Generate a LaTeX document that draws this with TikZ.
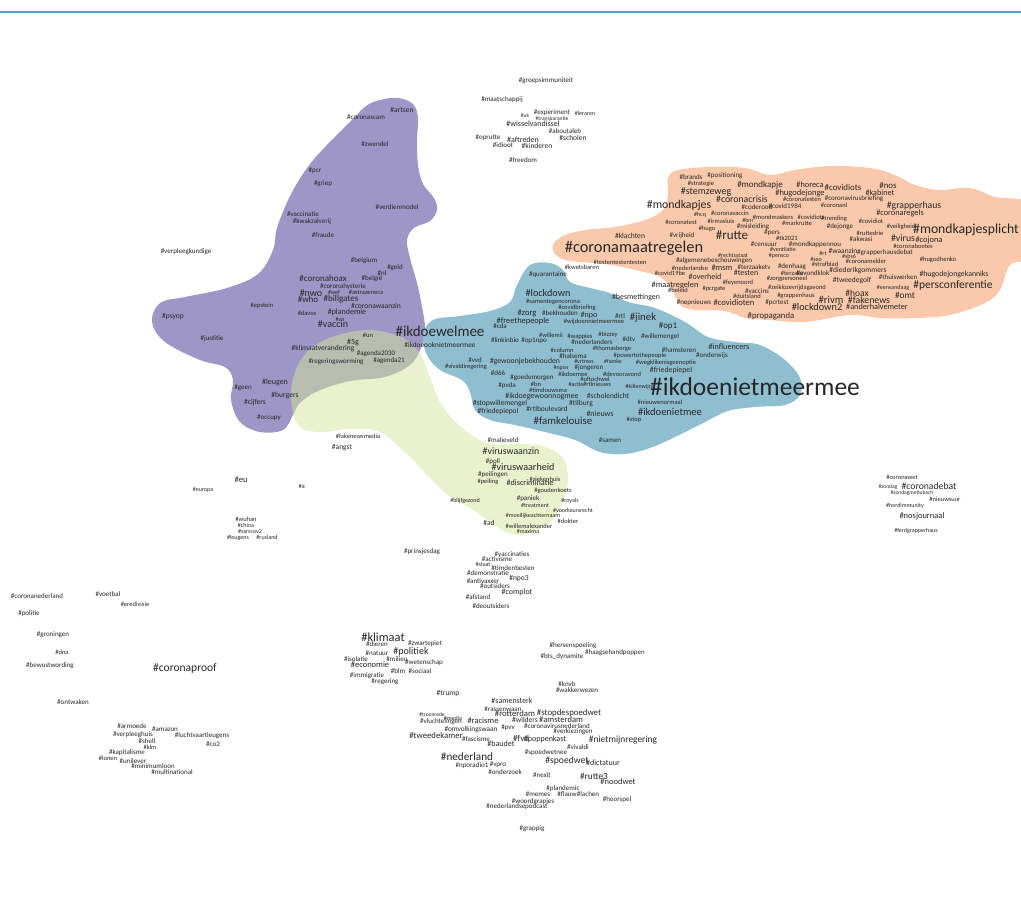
\documentclass[tikz,border=0pt]{standalone}
\usepackage{fontspec}
\setmainfont{Carlito}
\usepackage{tikz}

\definecolor{clpurple}{RGB}{158,150,199}
\definecolor{clorange}{RGB}{250,200,170}
\definecolor{clblue}{RGB}{144,190,209}
\definecolor{clgreen}{RGB}{209,231,155}
\definecolor{topblue}{RGB}{91,155,213}

\begin{document}
\begin{tikzpicture}[
        x=1pt, y=-1pt,
        % Stili per le etichette
        tag/.style={inner sep=0pt, text=black!85, font=\fontsize{#1pt}{#1pt}\selectfont},
        % Stili per i cluster
        cluster/.style={draw=none, fill=#1},
        topline/.style={draw=topblue, line width=1.4pt}
    ]
    \useasboundingbox (0,0) rectangle (1021,902);
    \clip (0,0) rectangle (1021,902);

    % --- TOP LINE ---
    \coordinate (lineL) at (0,12);
    \coordinate (lineR) at (1021,12);
    \draw[topline] (lineL) -- (lineR);

    % --- CLUSTERS ---
    \fill[cluster=clpurple] plot[smooth cycle, tension=0.6] coordinates {
        (380,100) (398,98) (413,104) (418,118) (417,140) (418,165) (423,184) (434,198)
        (437,210) (430,221) (414,228) (407,240) (410,258) (417,283) (422,307) (425,328)
        (421,348) (410,365) (385,377) (350,381) (318,391) (300,403) (293,415) (283,430)
        (260,432) (240,422) (231,400) (233,380) (225,367) (200,360) (165,342) (152,322)
        (160,303) (185,297) (227,288) (258,274) (273,250) (277,228) (290,196) (307,168)
        (325,147) (350,122) (366,106)};
    \fill[cluster=clblue] plot[smooth cycle, tension=0.6] coordinates {
        (530,265) (550,263) (563,270) (570,282) (590,288) (610,293) (628,302) (655,308)
        (685,322) (708,337) (735,342) (760,345) (785,360) (800,378) (800,395) (785,405)
        (755,407) (728,411) (705,422) (675,437) (650,448) (625,454) (600,452) (575,440)
        (545,432) (515,425) (490,420) (475,410) (470,392) (462,380) (440,370) (427,355)
        (423,335) (433,320) (460,316) (490,311) (510,302) (517,285)};
    \fill[cluster=clorange] plot[smooth cycle, tension=0.6] coordinates {
        (553,245) (563,236) (585,230) (615,227) (645,220) (663,210) (668,195) (668,178)
        (678,170) (710,167) (745,168) (770,175) (795,170) (830,166) (870,168) (895,175)
        (915,185) (940,190) (970,188) (995,197) (1030,205) (1030,255) (1010,265) (1000,290)
        (985,303) (950,315) (915,318) (880,318) (850,315) (805,322) (770,320) (745,318)
        (725,311) (695,310) (680,305) (672,290) (660,277) (635,270) (605,264) (570,261)
        (556,255)};
    \fill[cluster=clgreen, fill opacity=0.5] plot[smooth cycle, tension=0.6] coordinates {
        (291,398) (295,372) (309,350) (335,336) (370,330) (401,337) (419,352) (430,377)
        (441,404) (460,426) (487,443) (515,444) (543,446) (562,457) (568,478) (563,502)
        (550,522) (528,534) (508,533) (490,522) (470,508) (448,495) (430,478) (408,455)
        (380,432) (350,429) (318,432) (298,425)};

    % --- TOP CLUSTER ---
    \foreach \f/\x/\y/\t [count=\i] in {
        7/546/81/groepsimmuniteit, 7/502/100/maatschappij, 7/552/113/experiment,
        6/585/113/leraren, 5.5/525/116/uk, 5.5/552/119/transparantie,
        8/533/124/wisselvandissel, 7/565/131/aboutaleb, 7/488/138/oprutte,
        8/523/140/aftreden, 7.5/573/138/scholen, 7/503/145/idioot,
        7.5/537/146/kinderen, 7/523/160/freedom}
        \node[tag=\f] (top\i) at (\x,\y) {\#\t};

    % --- PURPLE CLUSTER ---
    \foreach \f/\x/\y/\t [count=\i] in {
        7/366/117/coronascam, 7.5/402/110/artsen, 7/375/144/zwendel, 7/315/171/pcr,
        7/323/184/griep, 7/397/207/verdienmodel, 7/303/214/vaccinatie,
        7/312/222/kwakzalverij, 7/323/235/fraude, 7/186/252/verpleegkundige,
        7/364/261/belgium, 7/395/268/geld, 7/382/273/nl, 7/372/279/belgië,
        9/323/278/coronahoax, 7/343/287/coronahysterie, 10/311/293/nwo, 6/334/292/wef,
        6.5/366/292/astrazeneca, 9/308/299/who, 9/341/299/billgates,
        7.5/376/306/coronawaanzin, 6.5/262/306/epstein, 6.5/307/313/davos,
        8/347/312/plandemie, 6/340/319/vn, 10/333/324/vaccin, 7.5/173/317/psyop,
        7/212/339/justitie, 6.5/368/335/un, 8/353/342/5g, 7.5/323/349/klimaatverandering,
        7/376/354/agenda2030, 7/336/362/regeringsworming, 7/389/361/agenda21,
        15/440/331/ikdoewelmee, 7.3/440/345/ikdoeooknietmeermee, 8/275/382/leugen,
        7/243/388/geen, 7.6/285/396/burgers, 7.5/255/403/cijfers, 7/269/418/occupy,
        6.5/358/436/fakenewsmedia, 7.5/342/448/angst}
        \node[tag=\f] (pur\i) at (\x,\y) {\#\t};

    % --- ORANGE CLUSTER ---
    \foreach \f/\x/\y/\t [count=\i] in {
        7/691/177/brands, 7/725/176/positioning, 6.5/701/184/strategie,
        9/760/185/mondkapje, 10/706/192/stemzeweg, 9.7/742/199/coronacrisis,
        8.5/800/193/hugodejonge, 11.8/679/205/mondkapjes, 7/757/207/coderood,
        7/785/206/covid1984, 6/700/215/hcq, 6.5/730/213/coronavaccin,
        6.5/721/221/irmasluis, 6/748/220/bnr, 6.5/773/217/mondmaskers,
        6.5/681/222/coronatest, 7/753/227/misleiding, 6.5/707/229/hugo,
        7/682/236/vrijheid, 7.6/630/236/klachten, 16.4/634/248/coronamaatregelen,
        13/732/235/rutte, 7/772/233/pers, 6.5/797/223/markrutte, 6.5/787/238/tk2021,
        7/764/244/censuur, 6/783/249/ventilatie, 6/733/255/rechtsstaat,
        6/779/256/pensco, 7/714/261/algemenebeschouwingen, 6.5/690/268/nederlandse,
        8.4/722/268/msm, 7/754/267/terzaaketv, 7/792/267/denhaag,
        6.5/670/273/covid19be, 8/746/273/testen, 6.5/792/273/terzake,
        8/705/277/overheid, 6.5/787/279/zorgpersoneel, 6.5/738/283/feyenoord,
        8.3/675/285/maatregelen, 6.5/678/290/beleid, 6.5/714/289/pcrgate,
        7/757/291/vaccins, 6.5/797/288/zeiklozevrijdagavond, 6.5/747/296/duitsland,
        6.5/796/296/grappenhaus, 7/694/303/nepnieuws, 8.6/734/303/covidioten,
        7/777/303/pcrtest, 8.7/771/316/propaganda, 7.9/636/297/besmettingen,
        6.5/620/262/testentestentesten, 6.5/582/267/kwetsbaren,
        8.3/810/185/horeca, 8.9/843/187/covidiots, 8.9/888/186/nos, 8.2/880/193/kabinet,
        6.5/802/199/coronatesten, 7/854/199/coronavirusbriefing, 6.5/834/205/coronanl,
        9.7/914/206/grapperhaus, 8.3/900/213/coronaregels, 6.5/811/217/covidiots,
        6.5/834/219/trending, 6.5/871/221/covidiot, 7/840/227/dejonge,
        6.5/901/227/veiligheid, 6.5/870/233/ruttedrie, 13.7/966/230/mondkapjesplicht,
        7/861/239/akwasi, 9.8/903/238/virus, 8.4/929/240/cojona,
        7/815/245/mondkappennou, 6.5/913/246/coronaboetes, 7.5/843/251/waanzin,
        7/885/253/grapperhausdebat, 6/823/253/rt, 6.5/938/260/hugodhenko,
        6/816/259/seo, 6/849/256/sbs6, 6.5/866/261/coronamelder, 6.5/825/264/strafblad,
        7.5/858/271/diederikgommers, 7/813/273/avondklok, 7/898/277/thuiswerken,
        7.8/954/274/hugodejongekanniks, 7.5/852/281/tweedegolf,
        11.5/953/285/persconferentie, 6/893/288/eenvandaag, 9.5/857/293/hoax,
        9.3/905/295/omt, 10.7/831/300/rivm, 9.8/869/300/fakenews,
        10.3/817/307/lockdown2, 8.2/877/307/anderhalvemeter}
        \node[tag=\f] (ora\i) at (\x,\y) {\#\t};

    % --- BLUE CLUSTER ---
    \foreach \f/\x/\y/\t [count=\i] in {
        7/548/275/quarantaine, 10.2/548/293/lockdown, 6.5/553/302/samentegencorona,
        6.5/577/308/covidbriefing, 8.5/527/313/zorg, 7/560/313/bekhouden,
        8/589/315/npo, 7/620/316/rtl, 10.8/643/318/jinek, 8.4/523/321/freethepeople,
        6.5/594/322/wijdoennietmeermee, 7/500/326/cda, 8.9/668/326/op1,
        6.5/551/335/willemii, 6.5/580/337/wappies, 6.5/608/335/bizzey, 7/629/339/dtv,
        7/660/337/willemengel, 7/505/340/linkinbio, 7/534/341/op1npo,
        7/592/342/nederlanders, 6.5/562/350/column, 6.5/612/349/thomasberge,
        7/679/350/hamsteren, 8.2/729/347/influencers, 7/712/356/onderwijs,
        7/573/356/halsema, 6.5/640/356/powertothepeople, 7/475/360/vvd,
        7.7/525/361/gewoonjebekhouden, 6/584/361/vrtnws, 6/613/361/famke,
        6.5/666/363/wegklikenisgeenoptie, 6.5/466/367/vivaldiregering, 7/498/373/d66,
        6/561/368/npos, 7/589/368/jongeren, 7.8/671/370/friedepiepel,
        6.5/573/374/ikdoemee, 6.5/622/374/devooravond, 7/532/378/goedemorgen,
        6.5/595/379/oftochwel, 7/507/386/pvda, 6.5/536/384/bn, 6/576/384/actie,
        6.5/597/384/rtlnieuws, 6.5/548/390/timdouwsma, 6/640/387/killenwijns,
        7.9/542/396/ikdoegewoonnogmee, 7.5/608/396/scholendicht,
        6.5/660/402/nieuwenormaal, 7.6/500/404/stopwillemengel, 7.5/581/404/tilburg,
        7.5/498/411/friedepiepol, 7.5/547/409/rtlboulevard, 8/600/414/nieuws,
        10.5/670/412/ikdoenietmee, 6.5/634/420/stop, 10.9/563/421/famkelouise,
        7/610/440/samen, 25.5/755/387/ikdoenietmeermee}
        \node[tag=\f] (blu\i) at (\x,\y) {\#\t};

    % --- GREEN CLUSTER ---
    \foreach \f/\x/\y/\t [count=\i] in {
        7/503/440/malieveld, 9.8/511/451/viruswaanzin, 7/493/462/poll,
        10.1/523/467/viruswaarheid, 7/493/475/peilingen, 6.5/488/482/peiling,
        6.5/545/479/ziekenhuis, 8.2/530/483/discriminatie, 6.5/553/491/goudenkoets,
        6/465/501/blijfgezond, 7/528/499/paniek, 6/535/505/treatment, 6/570/501/royals,
        6/573/510/voorkeursrecht, 6/533/516/moeilijkeachternaam, 6.5/568/521/dokter,
        7.5/489/523/ad, 6.5/529/526/willemalexander, 6/528/531/maxima}
        \node[tag=\f] (gre\i) at (\x,\y) {\#\t};

    % --- LOOSE TAGS, LEFT AND RIGHT ---
    \foreach \f/\x/\y/\t [count=\i] in {
        8.5/241/480/eu, 6/203/490/europa, 6/302/486/ic, 6.5/246/519/wuhan,
        6/246/525/china, 6/250/531/sarscov2, 6/238/538/leugens, 6/267/537/rusland,
        6.5/902/477/coronawet, 5.5/888/487/zondag, 9.7/929/486/coronadebat,
        5.5/912/493/zondagmetlubach, 6.5/945/499/nieuwsuur, 6/905/506/herdimmunity,
        8.5/922/516/nosjournaal, 6/916/531/ferdgrapperhaus}
        \node[tag=\f] (side\i) at (\x,\y) {\#\t};

    % --- BOTTOM LEFT ---
    \foreach \f/\x/\y/\t [count=\i] in {
        7/37/596/coronanederland, 7/108/594/voetbal, 6.5/135/604/eredivisie,
        7/29/614/politie, 7/53/635/groningen, 6.5/62/652/dna, 7/50/666/bewustwording,
        11.5/185/668/coronaproof, 7/73/702/ontwaken, 7/132/726/armoede,
        7/165/729/amazon, 7/133/735/verpleeghuis, 7/202/736/luchtvaartleugens,
        7/147/741/shell, 6.5/150/747/klm, 7/213/744/co2, 7/127/753/kapitalisme,
        6.5/108/758/lonen, 7/133/761/unilever, 7/153/766/minimumloon,
        7/172/772/multinational}
        \node[tag=\f] (bl\i) at (\x,\y) {\#\t};

    % --- BOTTOM CENTRE ---
    \foreach \f/\x/\y/\t [count=\i] in {
        7/422/552/prinsjesdag, 7/512/554/vaccinaties, 7/497/559/activisme,
        6/483/564/staat, 7/513/568/timdenbesten, 7/488/573/demonstratie,
        7/483/581/antivaxxer, 7.5/519/579/npo3, 7/495/586/outsiders, 8/517/592/complot,
        7/478/597/afstand, 7/491/606/deoutsiders, 12.4/383/637/klimaat,
        7/377/644/dieren, 7/425/644/zwartepiet, 7/377/653/natuur, 10/411/652/politiek,
        7/356/659/isolatie, 7/397/659/milieu, 7/424/663/wetenschap,
        8.5/370/665/economie, 7/398/671/blm, 7/420/671/sociaal, 7/367/676/immigratie,
        7/385/682/regering, 7.5/448/694/trump, 7/573/646/hersenspoeling,
        7/615/653/haagsehandpoppen, 7/562/657/bts\_dynamite, 7/567/684/knvb,
        7/577/690/wakkerwezen, 7.9/512/701/samensterk, 7/503/709/rassenwaan,
        5.5/432/715/troonrede, 6/453/718/media, 7/441/722/vluchtelingen,
        8.5/483/721/racisme, 8.7/515/714/rotterdam, 8.8/569/713/stopdespoedwet,
        7.5/525/720/wilders, 8.6/561/720/amsterdam, 7/557/726/coronavirusnederland,
        7.3/471/730/omvolkingswaan, 7/508/728/pvv, 7/573/732/verkiezingen,
        8.7/436/736/tweedekamer, 7/476/739/fascisme, 9/521/738/fvd,
        8/545/739/poppenkast, 9.4/623/740/nietmijnregering, 8/501/744/baudet,
        7/578/747/vivaldi, 11.2/467/757/nederland, 7/546/753/spoedwetnee,
        9.6/567/761/spoedwet, 8/603/763/dictatuur, 7/472/766/nporadio1,
        7/498/765/vpro, 7/505/772/onderzoek, 7/542/775/nexit, 9.3/594/776/rutte3,
        8.5/618/782/noodwet, 7/563/789/plandemic, 7/538/794/memes, 7/567/794/flauw,
        7/588/794/lachen, 7/617/800/hoorspel, 7/533/802/woordgrapjes,
        7/517/807/nederlandsepodcast, 7/532/829/grappig}
        \node[tag=\f] (bc\i) at (\x,\y) {\#\t};

\end{tikzpicture}
\end{document}
